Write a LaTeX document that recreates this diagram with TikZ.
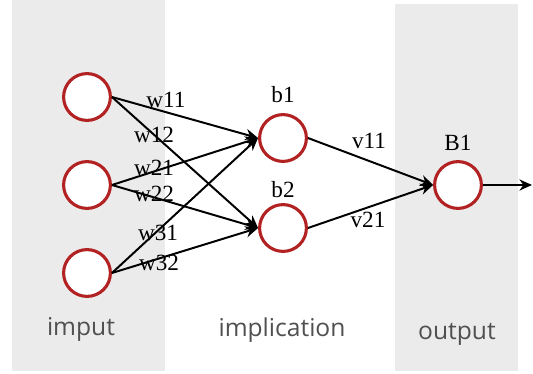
\documentclass[tikz,border=0pt]{standalone}
\usepackage{fontspec}
\setmainfont{Liberation Serif}
\newfontfamily\capfont{Open Sans}
\usepackage{xcolor}
\usepackage{tikz}
\usetikzlibrary{arrows.meta}

\definecolor{bandgray}{RGB}{235,235,235}
\definecolor{ringred}{RGB}{178,34,34}
\definecolor{capgray}{RGB}{80,80,80}

\begin{document}
\begin{tikzpicture}[
  x=0.025cm, y=-0.025cm,
  neuron/.style={circle, draw=ringred, line width=2.2pt, fill=white, minimum size=1.17cm, inner sep=0pt},
  wlab/.style={font=\fontsize{16.5}{18}\selectfont, inner sep=0pt},
  layer/.style={font=\capfont\fontsize{17.5}{20}\selectfont, text=capgray, anchor=base, inner sep=0pt},
  link/.style={-{Stealth[length=9pt, width=8pt]}, line width=1.4pt}
]
  \useasboundingbox (0,0) rectangle (533,374);

  % Shaded layer bands
  \fill[bandgray] (12,0) rectangle (165,371);
  \fill[bandgray] (395,4) rectangle (518,371);

  % Neurons
  \node[neuron] (in1) at (87,97)  {};
  \node[neuron] (in2) at (87,185) {};
  \node[neuron] (in3) at (87,273) {};

  \node[neuron] (hid1) at (283,138) {};
  \node[neuron] (hid2) at (283,228) {};

  \node[neuron] (out) at (458,185) {};
  \coordinate (outend) at (532,185);

  % Connections
  \foreach \i in {1,2,3} {
    \draw[link] (in\i.east) -- (hid1.west);
    \draw[link] (in\i.east) -- (hid2.west);
  }
  \draw[link] (hid1.east) -- (out.west);
  \draw[link] (hid2.east) -- (out.west);
  \draw[link, line width=1pt] (out.east) -- (outend);

  % Weight labels
  \node[wlab] (lw11) at (166,100) {w11};
  \node[wlab] (lw12) at (154,135) {w12};
  \node[wlab] (lw21) at (154,168) {w21};
  \node[wlab] (lw22) at (154,194) {w22};
  \node[wlab] (lw31) at (158,233) {w31};
  \node[wlab] (lw32) at (159,263) {w32};

  \node[wlab] (lb1) at (283,95)  {b1};
  \node[wlab] (lb2) at (283,190) {b2};
  \node[wlab] (lv11) at (369,141) {v11};
  \node[wlab] (lv21) at (368,220) {v21};
  \node[wlab] (lB1) at (458,143) {B1};

  % Layer captions (bottom row)
  \node[layer] (capin)  at (81,335)  {imput};
  \node[layer] (capimp) at (282,336) {implication};
  \node[layer] (capout) at (457,339) {output};

\end{tikzpicture}
\end{document}
